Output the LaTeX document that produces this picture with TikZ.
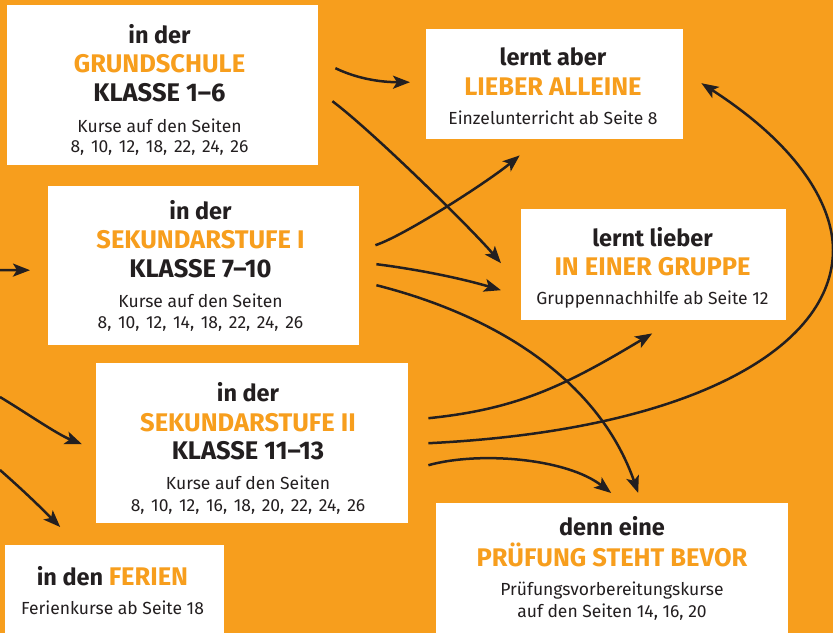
\documentclass[tikz,border=0pt]{standalone}
\usepackage{fontspec}
\setmainfont{Fira Sans}
\usetikzlibrary{arrows.meta}
\definecolor{amber}{RGB}{247,158,29}
\definecolor{ink}{RGB}{35,31,32}
\newcommand{\widespace}{\spaceskip=6.6pt\relax}
\tikzset{
	box/.style={fill=white, inner sep=0pt, anchor=north west},
	head/.style={anchor=base, inner sep=0pt, text=ink, font=\fontsize{23.5}{28}\selectfont\bfseries},
	caps/.style={head, font=\fontsize{25.5}{30}\selectfont\bfseries},
	key/.style={caps, text=amber},
	note/.style={anchor=base, inner sep=0pt, text=ink, font=\fontsize{17.5}{21}\selectfont},
	link/.style={draw=ink, line width=2.5pt, -{Stealth[length=17pt,width=13pt,inset=4pt]}}
}
\begin{document}
\begin{tikzpicture}[x=1pt,y=-1pt]
	\fill[amber] (0,0) rectangle (833,633);
	\useasboundingbox (0,0) rectangle (833,633);
	% boxes
	\node[box, minimum width=311, minimum height=160] (grund) at (7,5){};
	\node[box, minimum width=311, minimum height=159] (sekI) at (48,186){};
	\node[box, minimum width=312, minimum height=160] (sekII) at (96,363){};
	\node[box, minimum width=219, minimum height=88] (ferien) at (5,545){};
	\node[box, minimum width=257, minimum height=110] (allein) at (426,29){};
	\node[box, minimum width=265, minimum height=111] (gruppe) at (521,209){};
	\node[box, minimum width=352, minimum height=130] (pruef) at (436,503){};
	% texts
	\node[head] (grundA) at (159.5,43){in der};
	\node[key] (grundB) at (159.5,72){GRUNDSCHULE};
	\node[caps] (grundC) at (159.5,101){KLASSE 1--6};
	\node[note] (grundD) at (159.5,132){Kurse auf den Seiten};
	\node[note] (grundE) at (159.5,152){\widespace 8, 10, 12, 18, 22, 24, 26};
	\node[head] (sekIA) at (200.5,219){in der};
	\node[key] (sekIB) at (200.5,248){SEKUNDARSTUFE I};
	\node[caps] (sekIC) at (200.5,277){KLASSE 7--10};
	\node[note] (sekID) at (200.5,307){Kurse auf den Seiten};
	\node[note] (sekIE) at (200.5,328){\widespace 8, 10, 12, 14, 18, 22, 24, 26};
	\node[head] (sekIIA) at (248,401){in der};
	\node[key] (sekIIB) at (248,431){SEKUNDARSTUFE II};
	\node[caps] (sekIIC) at (248,459){KLASSE 11--13};
	\node[note] (sekIID) at (248,489){Kurse auf den Seiten};
	\node[note] (sekIIE) at (248,511){\widespace 8, 10, 12, 16, 18, 20, 22, 24, 26};
	\node[head] (ferienA) at (112.5,585){in den \textcolor{amber}{\fontsize{25.5}{30}\selectfont FERIEN}};
	\node[note] (ferienB) at (112.5,614){Ferienkurse ab Seite 18};
	\node[head] (alleinA) at (553,65){lernt aber};
	\node[key] (alleinB) at (553,95){LIEBER ALLEINE};
	\node[note] (alleinC) at (553,124){Einzelunterricht ab Seite 8};
	\node[head] (gruppeA) at (652.5,246){lernt lieber};
	\node[key] (gruppeB) at (652.5,275){IN EINER GRUPPE};
	\node[note] (gruppeC) at (652.5,304){Gruppennachhilfe ab Seite 12};
	\node[head] (pruefA) at (612,535){denn eine};
	\node[key] (pruefB) at (612,566){PRÜFUNG STEHT BEVOR};
	\node[note] (pruefC) at (612,595){Prüfungsvorbereitungskurse};
	\node[note] (pruefD) at (612,617){auf den Seiten 14, 16, 20};
	% arrows
	\coordinate (inI) at (0,270);
	\coordinate (inII) at (0,397);
	\coordinate (inF) at (0,470);
	\coordinate (bend) at (833,250);
	\draw[link] (inI) -- ([shift={(-18,4.5)}]sekI.west);
	\draw[link] (inII) .. controls +(25,15) and +(-25,-10) .. ([shift={(-14,1)}]sekII.west);
	\draw[link] (inF) .. controls +(25,22) and +(-20,-20) .. ([shift={(-54.5,-18)}]ferien.north);
	\draw[link] ([shift={(17,-17)}]grund.east) .. controls +(25,12) and +(-25,0) .. ([shift={(-16,-2)}]allein.west);
	\draw[link] ([shift={(14,16)}]grund.east) .. controls +(40,30) and +(-30,-35) .. ([shift={(-20,-1.5)}]gruppe.west);
	\draw[link] ([shift={(16,-20.5)}]sekI.east) .. controls +(30,-10) and +(-30,25) .. ([shift={(-35,16)}]allein.south);
	\draw[link] ([shift={(17,-1.5)}]sekI.east) .. controls +(40,5) and +(-40,-12) .. ([shift={(-20,25.5)}]gruppe.west);
	\draw[link] ([shift={(17,19.5)}]sekI.east) .. controls +(126,32) and +(-38,-109) .. ([shift={(26,-10)}]pruef.north);
	\draw[link] ([shift={(20,-25)}]sekII.east) .. controls +(88,-9) and +(-88,53) .. ([shift={(-1.5,13)}]gruppe.south);
	\draw[link] ([shift={(20,0)}]sekII.east) .. controls +(265,-13) and +(0,97) .. (bend)
		.. controls +(0,-42) and +(101,65) .. ([shift={(18,-1)}]allein.east);
	\draw[link] ([shift={(20,22)}]sekII.east) .. controls +(50,-14) and +(-45,-35) .. ([shift={(-1,-10)}]pruef.north);
\end{tikzpicture}
\end{document}
